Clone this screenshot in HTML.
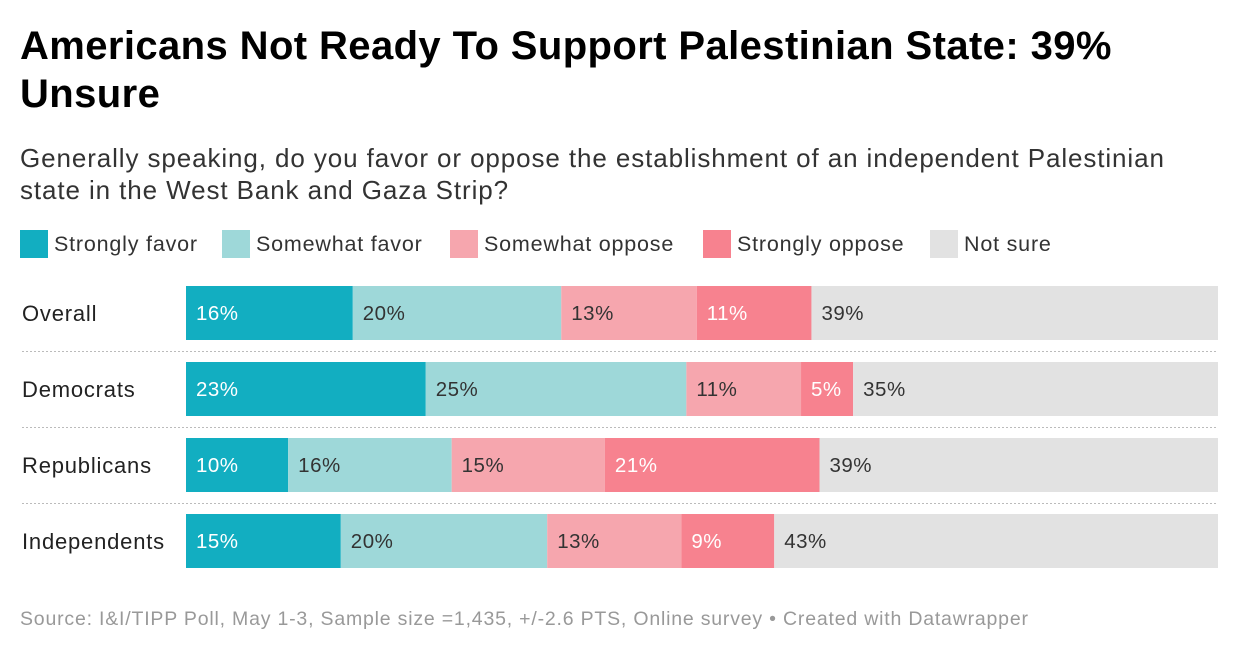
<!DOCTYPE html>
<html><head><meta charset="utf-8"><style>
body{margin:0;width:1240px;height:656px;background:#fff;font-family:"Liberation Sans",sans-serif;color:#222;position:relative;overflow:hidden}
.abs{position:absolute}
h1{position:absolute;left:20px;top:22px;margin:0;font-size:40px;line-height:48px;font-weight:bold;color:#000;width:1150px;letter-spacing:0.4px}
.sub{left:20px;top:142px;font-size:26px;line-height:32px;color:#333;width:1150px;letter-spacing:0.9px}
.leg{top:230px;font-size:21.5px;color:#333;display:flex;align-items:center;letter-spacing:0.8px}
.sw{width:28px;height:28px;margin-right:6px;display:inline-block}
.foot{left:20px;top:608px;font-size:19.5px;color:#999;letter-spacing:0.8px}
</style></head><body>
<h1>Americans Not Ready To Support Palestinian State: 39% Unsure</h1>
<div class="abs sub">Generally speaking, do you favor or oppose the establishment of an independent Palestinian state in the West Bank and Gaza Strip?</div>
<div id="legend"></div>
<svg id="chart" class="abs" style="left:0;top:0" width="1240" height="656"></svg>
<div class="abs foot">Source: I&amp;I/TIPP Poll, May 1-3, Sample size =1,435, +/-2.6 PTS, Online survey • Created with Datawrapper</div>
<script>
const categories=["Overall","Democrats","Republicans","Independents"];
const seriesNames=["Strongly favor","Somewhat favor","Somewhat oppose","Strongly oppose","Not sure"];
const stronglyFavor=[16,23,10,15];
const somewhatFavor=[20,25,16,20];
const somewhatOppose=[13,11,15,13];
const stronglyOppose=[11,5,21,9];
const notSure=[39,35,39,43];
const colors=["#12aec1","#9ed8d9","#f6a6ae","#f7828f","#e2e2e2"];
const textColors=["#fff","#333","#333","#fff","#333"];
const series=[stronglyFavor,somewhatFavor,somewhatOppose,stronglyOppose,notSure];
const legX=[20,222,450,703,930];
const lg=document.getElementById('legend');
seriesNames.forEach((n,i)=>{
  const d=document.createElement('div');
  d.className='abs leg';d.style.left=legX[i]+'px';
  
  
  d.innerHTML='<span class="sw" style="background:'+colors[i]+'"></span>'+n;
  lg.appendChild(d);
});
const svg=document.getElementById('chart');
const NS='http://www.w3.org/2000/svg';
const x0=186,x1=1218,rowTop=286,rowStep=76,barH=54;
function xScale(v,total){return (x1-x0)*v/total;}
categories.forEach((c,r)=>{
  const y=rowTop+r*rowStep;
  const t=document.createElementNS(NS,'text');
  t.setAttribute('x',22);t.setAttribute('y',y+barH/2+8);
  t.setAttribute('font-size','22');t.setAttribute('fill','#222');
  t.setAttribute('letter-spacing','0.8');
  
  
  t.textContent=c;svg.appendChild(t);
  const total=series.reduce((s,a)=>s+a[r],0);
  let x=x0;
  series.forEach((arr,i)=>{
    const w=xScale(arr[r],total);
    const rect=document.createElementNS(NS,'rect');
    rect.setAttribute('x',x);rect.setAttribute('y',y);
    rect.setAttribute('width',w);rect.setAttribute('height',barH);
    rect.setAttribute('fill',colors[i]);
    
    
    svg.appendChild(rect);
    const lt=document.createElementNS(NS,'text');
    lt.setAttribute('x',x+10);lt.setAttribute('y',y+barH/2+7);
    lt.setAttribute('font-size','20.5');lt.setAttribute('fill',textColors[i]);
    lt.setAttribute('letter-spacing','0.5');
    
    
    lt.textContent=arr[r]+'%';svg.appendChild(lt);
    x+=w;
  });
  if(r<categories.length-1){
    const l=document.createElementNS(NS,'line');
    l.setAttribute('x1',22);l.setAttribute('x2',x1);
    l.setAttribute('y1',y+barH+11.5);l.setAttribute('y2',y+barH+11.5);
    l.setAttribute('stroke','#bbb');l.setAttribute('stroke-dasharray','2,2');
    
    
    svg.appendChild(l);
  }
});
</script>
</body></html>
